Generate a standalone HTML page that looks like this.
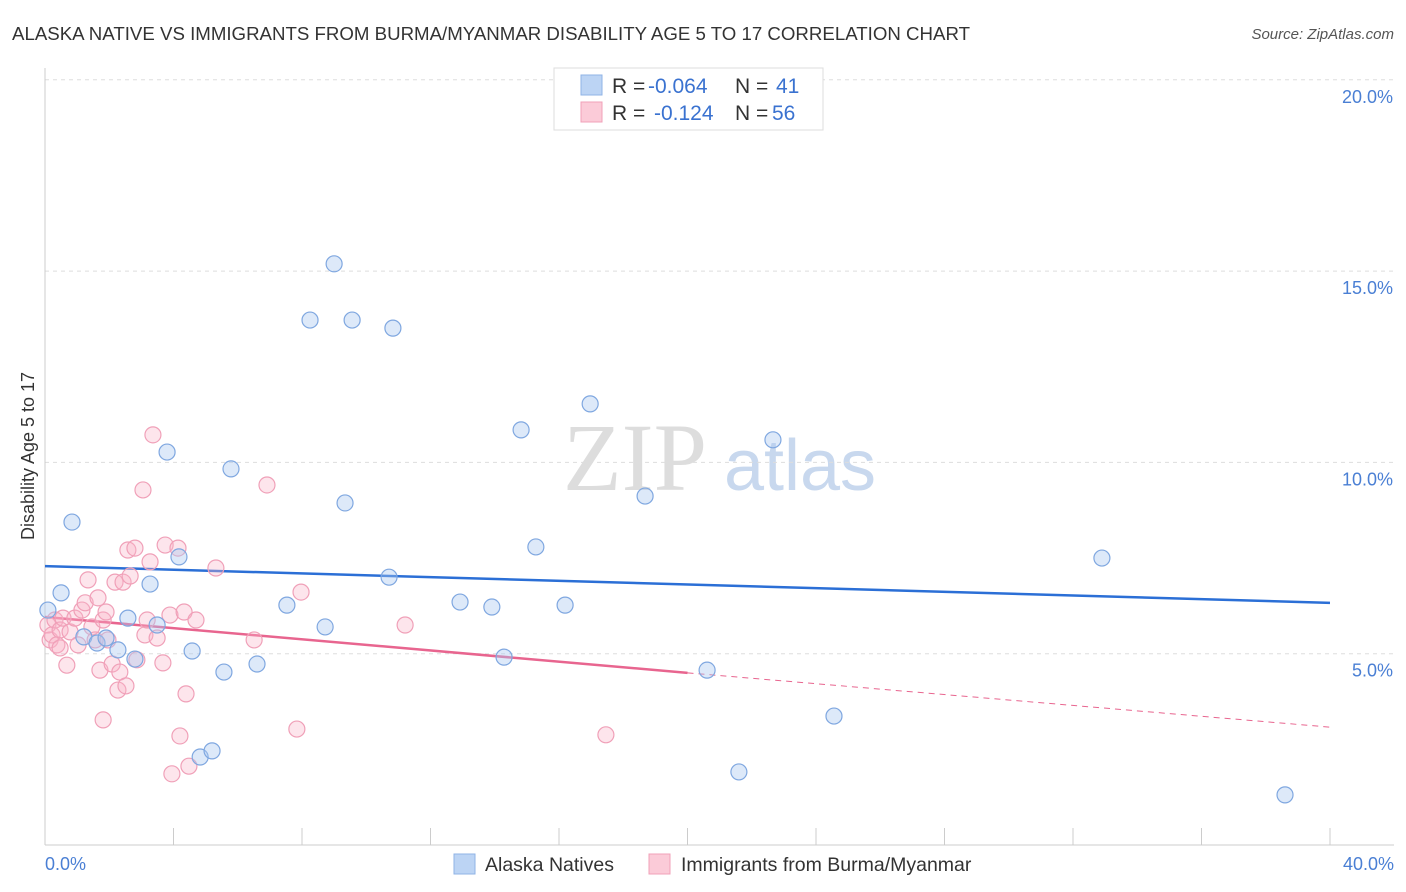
<!DOCTYPE html>
<html><head><meta charset="utf-8"><style>
body{margin:0;background:#fff;font-family:"Liberation Sans",sans-serif;}
svg{display:block}
</style></head><body>
<svg id="chart" width="1406" height="892">
<text x="12" y="40" font-size="18" fill="#333" textLength="958" lengthAdjust="spacingAndGlyphs">ALASKA NATIVE VS IMMIGRANTS FROM BURMA/MYANMAR DISABILITY AGE 5 TO 17 CORRELATION CHART</text>
<text x="1394" y="39" font-size="15" fill="#555" font-style="italic" text-anchor="end">Source: ZipAtlas.com</text>
<g><text x="635" y="490" font-size="96" font-family="Liberation Serif,serif" fill="#ddd" text-anchor="middle">ZIP</text><text x="800" y="490" font-size="72" fill="#c8d8ee" text-anchor="middle">atlas</text></g>
<g id="grid"></g>
<line x1="45" y1="68" x2="45" y2="845" stroke="#ccc"/>
<line x1="45" y1="845" x2="1394" y2="845" stroke="#ccc"/>
<text transform="translate(34,456) rotate(-90)" font-size="18" fill="#333" text-anchor="middle">Disability Age 5 to 17</text>
<text x="45" y="870" font-size="18" fill="#4a7fd4">0.0%</text>
<text x="1394" y="870" font-size="18" fill="#4a7fd4" text-anchor="end">40.0%</text>
<g id="trends"></g>
<g id="points"></g>
<g>
<rect x="554" y="68" width="269" height="62" fill="#fff" stroke="#ddd"/>
<rect x="581" y="75" width="21" height="20" fill="#bcd4f4" stroke="#8fb3e6"/>
<rect x="581" y="102" width="21" height="20" fill="#fbcbd8" stroke="#f0a0b8"/>
<text x="612" y="93" font-size="21" fill="#333">R = <tspan x="648" fill="#3a72d0">-0.064</tspan><tspan x="735">N = </tspan><tspan x="776" fill="#3a72d0">41</tspan></text>
<text x="612" y="120" font-size="21" fill="#333">R = <tspan x="654" fill="#3a72d0">-0.124</tspan><tspan x="735">N = </tspan><tspan x="772" fill="#3a72d0">56</tspan></text>
</g>
<g>
<rect x="454" y="854" width="21" height="20" fill="#bcd4f4" stroke="#8fb3e6"/>
<text x="485" y="871" font-size="19.5" fill="#333">Alaska Natives</text>
<rect x="649" y="854" width="21" height="20" fill="#fbcbd8" stroke="#f0a0b8"/>
<text x="681" y="871" font-size="19.5" fill="#333">Immigrants from Burma/Myanmar</text>
</g>
</svg>
<script>
const yTicks=[5,10,15,20];
const xTicks=[0,4,8,12,16,20,24,28,32,36,40];
const blueX=[0.09,0.50,0.84,1.21,1.62,1.90,2.27,2.58,2.80,3.27,3.49,3.80,4.17,4.58,4.83,5.20,5.57,5.79,6.60,7.53,8.25,8.72,9.00,9.34,9.56,10.71,10.83,12.92,13.91,14.29,14.82,15.28,16.19,16.97,18.68,20.61,21.60,22.66,24.56,32.90,38.60];
const blueY=[6.14,6.59,8.44,5.44,5.28,5.41,5.10,5.93,4.86,6.82,5.75,10.27,7.53,5.07,2.30,2.46,4.52,9.83,4.73,6.27,13.72,5.70,15.19,8.94,13.72,7.00,13.51,6.35,6.22,4.91,10.85,7.79,6.27,11.53,9.12,4.57,1.91,10.59,3.37,7.50,1.31];
const pinkX=[0.09,0.16,0.22,0.31,0.37,0.47,0.56,0.68,0.78,0.93,1.03,1.15,1.25,1.34,1.46,1.56,1.65,1.71,1.81,1.90,1.96,2.09,2.18,2.27,2.33,2.43,2.52,2.58,2.65,2.80,2.86,3.05,3.11,3.18,3.27,3.36,3.49,3.67,3.74,3.89,3.95,4.14,4.20,4.33,4.39,4.48,4.70,5.32,6.51,6.91,7.84,7.97,11.21,17.46,1.81,0.47];
const pinkY=[5.75,5.36,5.49,5.88,5.23,5.62,5.93,4.70,5.57,5.93,5.23,6.14,6.33,6.93,5.70,5.36,6.46,4.57,5.88,6.09,5.36,4.73,6.87,4.05,4.52,6.87,4.16,7.71,7.03,7.76,4.84,9.28,5.49,5.88,7.40,10.72,5.41,4.76,7.84,6.01,1.86,7.76,2.85,6.09,3.95,2.06,5.88,7.24,5.36,9.41,3.03,6.61,5.75,2.88,3.27,5.15];
const blueTrend=[7.29,6.33];
const pinkTrend=[5.96,4.50,3.08];
const sx=v=>45+v/40*1285;
const sy=v=>845-v/5*191.3;
const NS="http://www.w3.org/2000/svg";
function mk(t,a,p){const e=document.createElementNS(NS,t);for(const k in a)e.setAttribute(k,a[k]);p.appendChild(e);return e;}
const grid=document.getElementById('grid');
yTicks.forEach(t=>{
 const l=mk('line',{x1:45,x2:1394,y1:sy(t),y2:sy(t),stroke:'#ddd','stroke-dasharray':'4,4'},grid);
 
 
 const tx=mk('text',{x:1393,y:sy(t)+23,'font-size':18,fill:'#4a7fd4','text-anchor':'end'},grid);
 tx.textContent=t.toFixed(1)+'%';
 
 
});
xTicks.forEach(t=>{
 const l=mk('line',{x1:sx(t),x2:sx(t),y1:828,y2:845,stroke:'#ccc'},grid);
 
 
});
const pts=document.getElementById('points');
pinkX.forEach((x,i)=>{
 const c=mk('circle',{cx:sx(x),cy:sy(pinkY[i]),r:8,fill:'rgba(248,180,200,0.35)',stroke:'#f0a0b8','stroke-width':1.2},pts);
 
 
});
blueX.forEach((x,i)=>{
 const c=mk('circle',{cx:sx(x),cy:sy(blueY[i]),r:8,fill:'rgba(170,200,240,0.4)',stroke:'#7fa7e0','stroke-width':1.2},pts);
 
 
});
const tr=document.getElementById('trends');
const b=mk('line',{x1:sx(0),y1:sy(blueTrend[0]),x2:sx(40),y2:sy(blueTrend[1]),stroke:'#2b6fd6','stroke-width':2.5},tr);


const p1=mk('line',{x1:sx(0),y1:sy(pinkTrend[0]),x2:sx(20),y2:sy(pinkTrend[1]),stroke:'#e8658f','stroke-width':2.5},tr);


const p2=mk('line',{x1:sx(20),y1:sy(pinkTrend[1]),x2:sx(40),y2:sy(pinkTrend[2]),stroke:'#e8658f','stroke-width':1,'stroke-dasharray':'6,5'},tr);


</script>
</body></html>
